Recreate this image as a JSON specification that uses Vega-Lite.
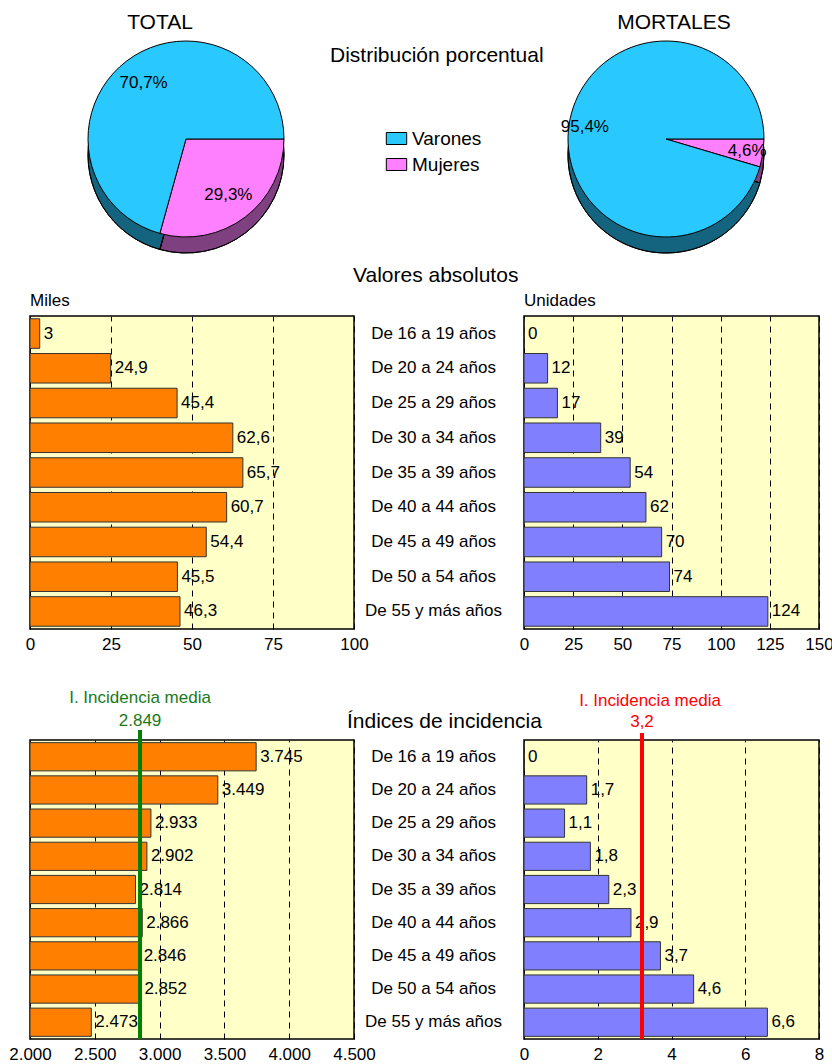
{
  "$schema": "https://vega.github.io/schema/vega-lite/v6.json",
  "padding": {"left": 7, "top": 12, "right": 0, "bottom": 0},
  "background": "white",
  "config": {
    "locale": {"number": {"decimal": ",", "thousands": ".", "grouping": [3], "currency": ["", " €"]}},
    "font": "Liberation Sans",
    "view": {"fill": "#FFFFC8", "stroke": "#000000", "strokeWidth": 1.5},
    "axis": {"labelFont": "Liberation Sans", "labelFontSize": 17, "labelColor": "#000000", "ticks": false, "domain": false, "title": null, "gridColor": "#000000", "gridDash": [6, 5], "gridWidth": 1, "gridOpacity": 1, "labelPadding": 7, "labelFlush": false},
    "title": {"font": "Liberation Sans", "fontSize": 17, "fontWeight": "normal", "color": "#000000", "baseline": "alphabetic", "frame": "group"},
    "text": {"font": "Liberation Sans", "fontSize": 17, "color": "#000000"}
  },
  "datasets": {
    "pieTotal": [
      {"sexo": "Mujeres", "prop": 0.293},
      {"sexo": "Varones", "prop": 0.707}
    ],
    "pieMort": [
      {"sexo": "Mujeres", "prop": 0.046},
      {"sexo": "Varones", "prop": 0.954}
    ],
    "edades": [
      {"edad": "De 16 a 19 años", "total": 3, "mortales": 0, "itotal": 3745, "imort": 0},
      {"edad": "De 20 a 24 años", "total": 24.9, "mortales": 12, "itotal": 3449, "imort": 1.7},
      {"edad": "De 25 a 29 años", "total": 45.4, "mortales": 17, "itotal": 2933, "imort": 1.1},
      {"edad": "De 30 a 34 años", "total": 62.6, "mortales": 39, "itotal": 2902, "imort": 1.8},
      {"edad": "De 35 a 39 años", "total": 65.7, "mortales": 54, "itotal": 2814, "imort": 2.3},
      {"edad": "De 40 a 44 años", "total": 60.7, "mortales": 62, "itotal": 2866, "imort": 2.9},
      {"edad": "De 45 a 49 años", "total": 54.4, "mortales": 70, "itotal": 2846, "imort": 3.7},
      {"edad": "De 50 a 54 años", "total": 45.5, "mortales": 74, "itotal": 2852, "imort": 4.6},
      {"edad": "De 55 y más años", "total": 46.3, "mortales": 124, "itotal": 2473, "imort": 6.6}
    ],
    "mediaTotal": [{"media": 2849}],
    "mediaMort": [{"media": 3.2}]
  },
  "spacing": 10,
  "vconcat": [
    {
      "bounds": "flush",
      "spacing": 182,
      "title": {"text": "Distribución porcentual", "fontSize": 21, "anchor": "start", "dx": 300, "offset": -54},
      "hconcat": [
        {
          "width": 312, "height": 196,
          "view": {"fill": null, "stroke": null},
          "title": {"text": "TOTAL", "fontSize": 21, "dx": -26, "offset": 6},
          "data": {"name": "pieTotal"},
          "encoding": {
            "theta": {"field": "prop", "type": "quantitative", "stack": true, "scale": {"range": [1.5708, 7.854]}},
            "order": {"field": "sexo", "sort": "ascending"}
          },
          "layer": [
            {"mark": {"type": "arc", "outerRadius": 98, "yOffset": 16, "stroke": "#000000", "strokeWidth": 1},
             "encoding": {"color": {"field": "sexo", "type": "nominal"}}},
            {"mark": {"type": "arc", "outerRadius": 98, "yOffset": 16, "fill": "#000000", "fillOpacity": 0.5, "stroke": "#000000", "strokeWidth": 1}},
            {"mark": {"type": "arc", "outerRadius": 98, "stroke": "#000000", "strokeWidth": 1},
             "encoding": {
               "color": {"field": "sexo", "type": "nominal", "scale": {"domain": ["Varones", "Mujeres"], "range": ["#29C8FF", "#FF80FF"]},
                 "legend": {"orient": "none", "legendX": 357, "legendY": 88, "direction": "vertical", "title": null, "labelFontSize": 19, "labelFont": "Liberation Sans", "labelColor": "#000000", "symbolType": "M-1.7,-1H1.7V1H-1.7Z", "symbolSize": 144, "symbolStrokeColor": "#000000", "symbolStrokeWidth": 1, "symbolOpacity": 1, "labelOffset": 6, "rowPadding": 6, "padding": 0}}
             }},
            {"mark": {"type": "text", "radius": 70, "fontSize": 17},
             "encoding": {"text": {"field": "prop", "type": "quantitative", "format": ".1%"}}}
          ]
        },
        {
          "width": 284, "height": 196,
          "view": {"fill": null, "stroke": null},
          "title": {"text": "MORTALES", "fontSize": 21, "dx": 8, "offset": 6},
          "data": {"name": "pieMort"},
          "encoding": {
            "theta": {"field": "prop", "type": "quantitative", "stack": true, "scale": {"range": [1.5708, 7.854]}},
            "order": {"field": "sexo", "sort": "ascending"}
          },
          "layer": [
            {"mark": {"type": "arc", "outerRadius": 98, "yOffset": 16, "stroke": "#000000", "strokeWidth": 1},
             "encoding": {"color": {"field": "sexo", "type": "nominal"}}},
            {"mark": {"type": "arc", "outerRadius": 98, "yOffset": 16, "fill": "#000000", "fillOpacity": 0.5, "stroke": "#000000", "strokeWidth": 1}},
            {"mark": {"type": "arc", "outerRadius": 98, "stroke": "#000000", "strokeWidth": 1},
             "encoding": {"color": {"field": "sexo", "type": "nominal"}}},
            {"mark": {"type": "text", "radius": 82, "fontSize": 17},
             "encoding": {"text": {"field": "prop", "type": "quantitative", "format": ".1%"}}}
          ]
        }
      ]
    },
    {
      "spacing": 35,
      "vconcat": [
        {
          "bounds": "flush",
          "spacing": 170,
          "title": {"text": "Valores absolutos", "fontSize": 21, "anchor": "start", "dx": 323, "offset": 5},
          "hconcat": [
            {
              "width": 324, "height": 313,
              "title": {"text": "Miles", "anchor": "start", "offset": 6},
              "data": {"name": "edades"},
              "layer": [
                {"mark": {"type": "bar", "color": "#FF8000", "stroke": "#333333", "strokeWidth": 1},
                 "encoding": {
                   "y": {"field": "edad", "type": "nominal", "sort": null, "axis": null, "scale": {"paddingInner": 0.15, "paddingOuter": 0.08}},
                   "x": {"field": "total", "type": "quantitative", "scale": {"domain": [0, 100], "nice": false}, "axis": {"values": [0, 25, 50, 75, 100], "grid": true}}
                 }},
                {"mark": {"type": "text", "align": "left", "baseline": "middle", "dx": 4},
                 "encoding": {
                   "y": {"field": "edad", "type": "nominal", "sort": null},
                   "x": {"field": "total", "type": "quantitative"},
                   "text": {"field": "total", "type": "quantitative", "format": "~g"}
                 }}
              ]
            },
            {
              "width": 295, "height": 313,
              "title": {"text": "Unidades", "anchor": "start", "offset": 6},
              "data": {"name": "edades"},
              "layer": [
                {"mark": {"type": "bar", "color": "#8080FF", "stroke": "#333333", "strokeWidth": 1},
                 "encoding": {
                   "y": {"field": "edad", "type": "nominal", "sort": null, "scale": {"paddingInner": 0.15, "paddingOuter": 0.08},
                     "axis": {"orient": "left", "labelAlign": "center", "labelBaseline": "middle", "labelPadding": 91, "grid": false, "labelFontSize": 17}},
                   "x": {"field": "mortales", "type": "quantitative", "scale": {"domain": [0, 150], "nice": false}, "axis": {"values": [0, 25, 50, 75, 100, 125, 150], "grid": true}}
                 }},
                {"mark": {"type": "text", "align": "left", "baseline": "middle", "dx": 4},
                 "encoding": {
                   "y": {"field": "edad", "type": "nominal", "sort": null},
                   "x": {"field": "mortales", "type": "quantitative"},
                   "text": {"field": "mortales", "type": "quantitative", "format": "~g"}
                 }}
              ]
            }
          ]
        },
        {
          "bounds": "flush",
          "spacing": 170,
          "title": {"text": "Índices de incidencia", "fontSize": 21, "anchor": "start", "dx": 317, "offset": -44},
          "hconcat": [
            {
              "width": 324, "height": 299,
              "layer": [
                {"data": {"name": "edades"},
                 "mark": {"type": "bar", "color": "#FF8000", "stroke": "#333333", "strokeWidth": 1},
                 "encoding": {
                   "y": {"field": "edad", "type": "nominal", "sort": null, "axis": null, "scale": {"paddingInner": 0.15, "paddingOuter": 0.08}},
                   "x": {"field": "itotal", "type": "quantitative", "scale": {"domain": [2000, 4500], "nice": false, "zero": false}, "axis": {"values": [2000, 2500, 3000, 3500, 4000, 4500], "format": ",d", "grid": true}},
                   "x2": {"datum": 2000}
                 }},
                {"data": {"name": "edades"},
                 "mark": {"type": "text", "align": "left", "baseline": "middle", "dx": 4},
                 "encoding": {
                   "y": {"field": "edad", "type": "nominal", "sort": null},
                   "x": {"field": "itotal", "type": "quantitative"},
                   "text": {"field": "itotal", "type": "quantitative", "format": ",d"}
                 }},
                {"data": {"name": "mediaTotal"},
                 "mark": {"type": "rule", "color": "#008000", "strokeWidth": 4, "y": -10, "y2": "height"},
                 "encoding": {"x": {"field": "media", "type": "quantitative"}}},
                {"data": {"name": "mediaTotal"},
                 "mark": {"type": "text", "text": "I. Incidencia media", "color": "#1A7A1A", "align": "center", "baseline": "alphabetic", "y": -37},
                 "encoding": {"x": {"field": "media", "type": "quantitative"}}},
                {"data": {"name": "mediaTotal"},
                 "mark": {"type": "text", "color": "#1A7A1A", "align": "center", "baseline": "alphabetic", "y": -14},
                 "encoding": {"x": {"field": "media", "type": "quantitative"}, "text": {"field": "media", "type": "quantitative", "format": ",d"}}}
              ]
            },
            {
              "width": 295, "height": 299,
              "layer": [
                {"data": {"name": "edades"},
                 "mark": {"type": "bar", "color": "#8080FF", "stroke": "#333333", "strokeWidth": 1},
                 "encoding": {
                   "y": {"field": "edad", "type": "nominal", "sort": null, "scale": {"paddingInner": 0.15, "paddingOuter": 0.08},
                     "axis": {"orient": "left", "labelAlign": "center", "labelBaseline": "middle", "labelPadding": 91, "grid": false, "labelFontSize": 17}},
                   "x": {"field": "imort", "type": "quantitative", "scale": {"domain": [0, 8], "nice": false}, "axis": {"values": [0, 2, 4, 6, 8], "grid": true}}
                 }},
                {"data": {"name": "edades"},
                 "mark": {"type": "text", "align": "left", "baseline": "middle", "dx": 4},
                 "encoding": {
                   "y": {"field": "edad", "type": "nominal", "sort": null},
                   "x": {"field": "imort", "type": "quantitative"},
                   "text": {"field": "imort", "type": "quantitative", "format": "~g"}
                 }},
                {"data": {"name": "mediaMort"},
                 "mark": {"type": "rule", "color": "#FF0000", "strokeWidth": 4, "y": -7, "y2": "height"},
                 "encoding": {"x": {"field": "media", "type": "quantitative"}}},
                {"data": {"name": "mediaMort"},
                 "mark": {"type": "text", "text": "I. Incidencia media", "color": "#FF0000", "align": "center", "baseline": "alphabetic", "y": -34, "dx": 8},
                 "encoding": {"x": {"field": "media", "type": "quantitative"}}},
                {"data": {"name": "mediaMort"},
                 "mark": {"type": "text", "color": "#FF0000", "align": "center", "baseline": "alphabetic", "y": -13},
                 "encoding": {"x": {"field": "media", "type": "quantitative"}, "text": {"field": "media", "type": "quantitative", "format": "~g"}}}
              ]
            }
          ]
        }
      ]
    }
  ]
}
